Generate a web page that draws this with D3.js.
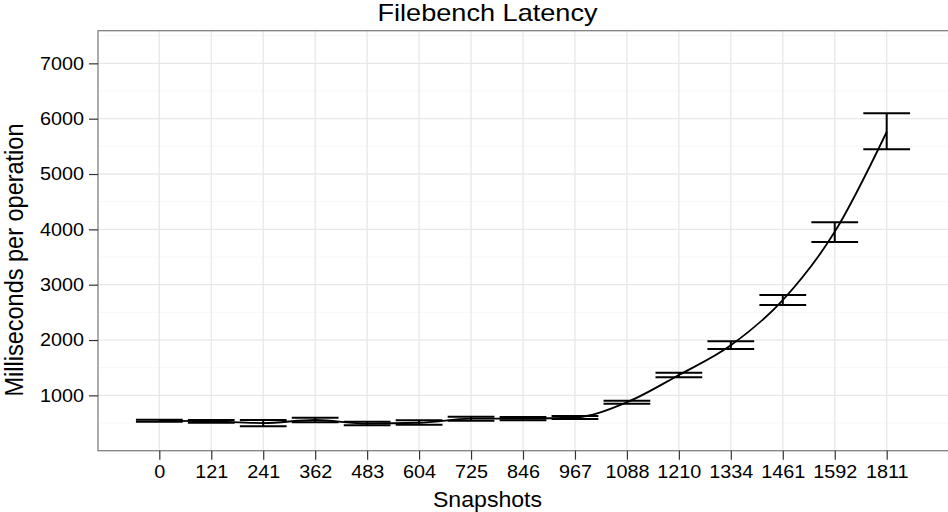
<!DOCTYPE html>
<html>
<head>
<meta charset="utf-8">
<script src="https://cdn.jsdelivr.net/npm/d3@7"></script>
<style>
  body { margin: 0; background: #fff; }
  text { font-family: "Liberation Sans", Arial, Helvetica, sans-serif; fill: #000; }
</style>
</head>
<body>
<div id="chart"></div>
<script>
// Filebench latency per snapshot count (ms per operation)
const snapshots = ['0', '121', '241', '362', '483', '604', '725', '846', '967', '1088', '1210', '1334', '1461', '1592', '1811'];
const meanMs = [542, 530, 500, 555, 490, 505, 578, 580, 600, 876, 1368, 1905, 2722, 3955, 5760];
const lowMs  = [524, 506, 441, 513, 459, 470, 542, 549, 573, 849, 1327, 1838, 2633, 3772, 5447];
const highMs = [560, 555, 555, 596, 524, 549, 614, 609, 627, 904, 1410, 1977, 2814, 4128, 6098];
const yTicks = [1000, 2000, 3000, 4000, 5000, 6000, 7000];
const yMinorTicks = [500, 1500, 2500, 3500, 4500, 5500, 6500, 7500];
const yMax = 7590;

const width = 948, height = 512;
const margin = { top: 30.7, right: 0, bottom: 61.3, left: 98 };
const innerW = width - margin.left - margin.right;
const innerH = height - margin.top - margin.bottom;

const svg = d3.select('#chart').append('svg')
  .attr('width', width)
  .attr('height', height);

const x = d3.scalePoint()
  .domain(snapshots)
  .range([margin.left, width - margin.right])
  .padding(1.18);

const y = d3.scaleLinear()
  .domain([0, yMax])
  .range([margin.top + innerH, margin.top]);

// text in the reference is slightly wide, stretch it a bit
function stretch(sel, sx) {
  sel.each(function() {
    const t = d3.select(this);
    const tx = +t.attr('x') || 0;
    t.attr('x', 0).attr('transform', `translate(${tx},0) scale(${sx},1)`);
  });
}

// grid
const grid = svg.append('g');
grid.selectAll('.minor')
  .data(yMinorTicks)
  .enter().append('line')
  .attr('x1', margin.left).attr('x2', width)
  .attr('y1', d => y(d)).attr('y2', d => y(d))
  .attr('stroke', '#f7f7f7')
  .attr('stroke-width', 1);
grid.selectAll('.major-y')
  .data(yTicks)
  .enter().append('line')
  .attr('x1', margin.left).attr('x2', width)
  .attr('y1', d => y(d)).attr('y2', d => y(d))
  .attr('stroke', '#e8e8e8')
  .attr('stroke-width', 1.3);
grid.selectAll('.major-x')
  .data(snapshots)
  .enter().append('line')
  .attr('x1', d => x(d)).attr('x2', d => x(d))
  .attr('y1', margin.top).attr('y2', margin.top + innerH)
  .attr('stroke', '#e8e8e8')
  .attr('stroke-width', 1.3);

// error bars
const barHalf = x.step() * 0.45;
const bars = svg.append('g')
  .attr('stroke', '#000')
  .attr('stroke-width', 2)
  .attr('fill', 'none');
snapshots.forEach((s, i) => {
  const cx = x(s);
  bars.append('line')
    .attr('x1', cx).attr('x2', cx)
    .attr('y1', y(lowMs[i])).attr('y2', y(highMs[i]));
  bars.append('line')
    .attr('x1', cx - barHalf).attr('x2', cx + barHalf)
    .attr('y1', y(lowMs[i])).attr('y2', y(lowMs[i]));
  bars.append('line')
    .attr('x1', cx - barHalf).attr('x2', cx + barHalf)
    .attr('y1', y(highMs[i])).attr('y2', y(highMs[i]));
});

// mean line
const line = d3.line()
  .x((d, i) => x(snapshots[i]))
  .y(d => y(d))
  .curve(d3.curveMonotoneX);

svg.append('path')
  .datum(meanMs)
  .attr('fill', 'none')
  .attr('stroke', '#000')
  .attr('stroke-width', 1.8)
  .attr('d', line);

// panel border (right side runs off the picture)
svg.append('rect')
  .attr('x', margin.left)
  .attr('y', margin.top)
  .attr('width', innerW + 10)
  .attr('height', innerH)
  .attr('fill', 'none')
  .attr('stroke', '#808080')
  .attr('stroke-width', 1.3);

// axes
const xAxis = svg.append('g')
  .attr('transform', `translate(0,${margin.top + innerH})`)
  .call(d3.axisBottom(x).tickSize(9).tickPadding(5.5));
const yAxis = svg.append('g')
  .attr('transform', `translate(${margin.left},0)`)
  .call(d3.axisLeft(y).tickValues(yTicks).tickFormat(d3.format('d')).tickSize(9).tickPadding(5));

[xAxis, yAxis].forEach(ax => {
  ax.select('.domain').remove();
  ax.selectAll('.tick line').attr('stroke', '#333').attr('stroke-width', 1.2);
  ax.selectAll('.tick text')
    .attr('fill', '#000')
    .style('font-size', '18px')
    .style('font-family', '"Liberation Sans", Arial, sans-serif');
  stretch(ax.selectAll('.tick text'), 1.1);
});

// titles
svg.append('text')
  .attr('transform', 'translate(487.5,20.7) scale(1.13,1)')
  .attr('text-anchor', 'middle')
  .style('font-size', '24px')
  .text('Filebench Latency');

svg.append('text')
  .attr('transform', 'translate(487.5,506.7) scale(1.09,1)')
  .attr('text-anchor', 'middle')
  .style('font-size', '21.2px')
  .text('Snapshots');

svg.append('text')
  .attr('transform', 'translate(22.5,260) scale(1.07,1) rotate(-90)')
  .attr('text-anchor', 'middle')
  .style('font-size', '23.5px')
  .text('Milliseconds per operation');
</script>
</body>
</html>
